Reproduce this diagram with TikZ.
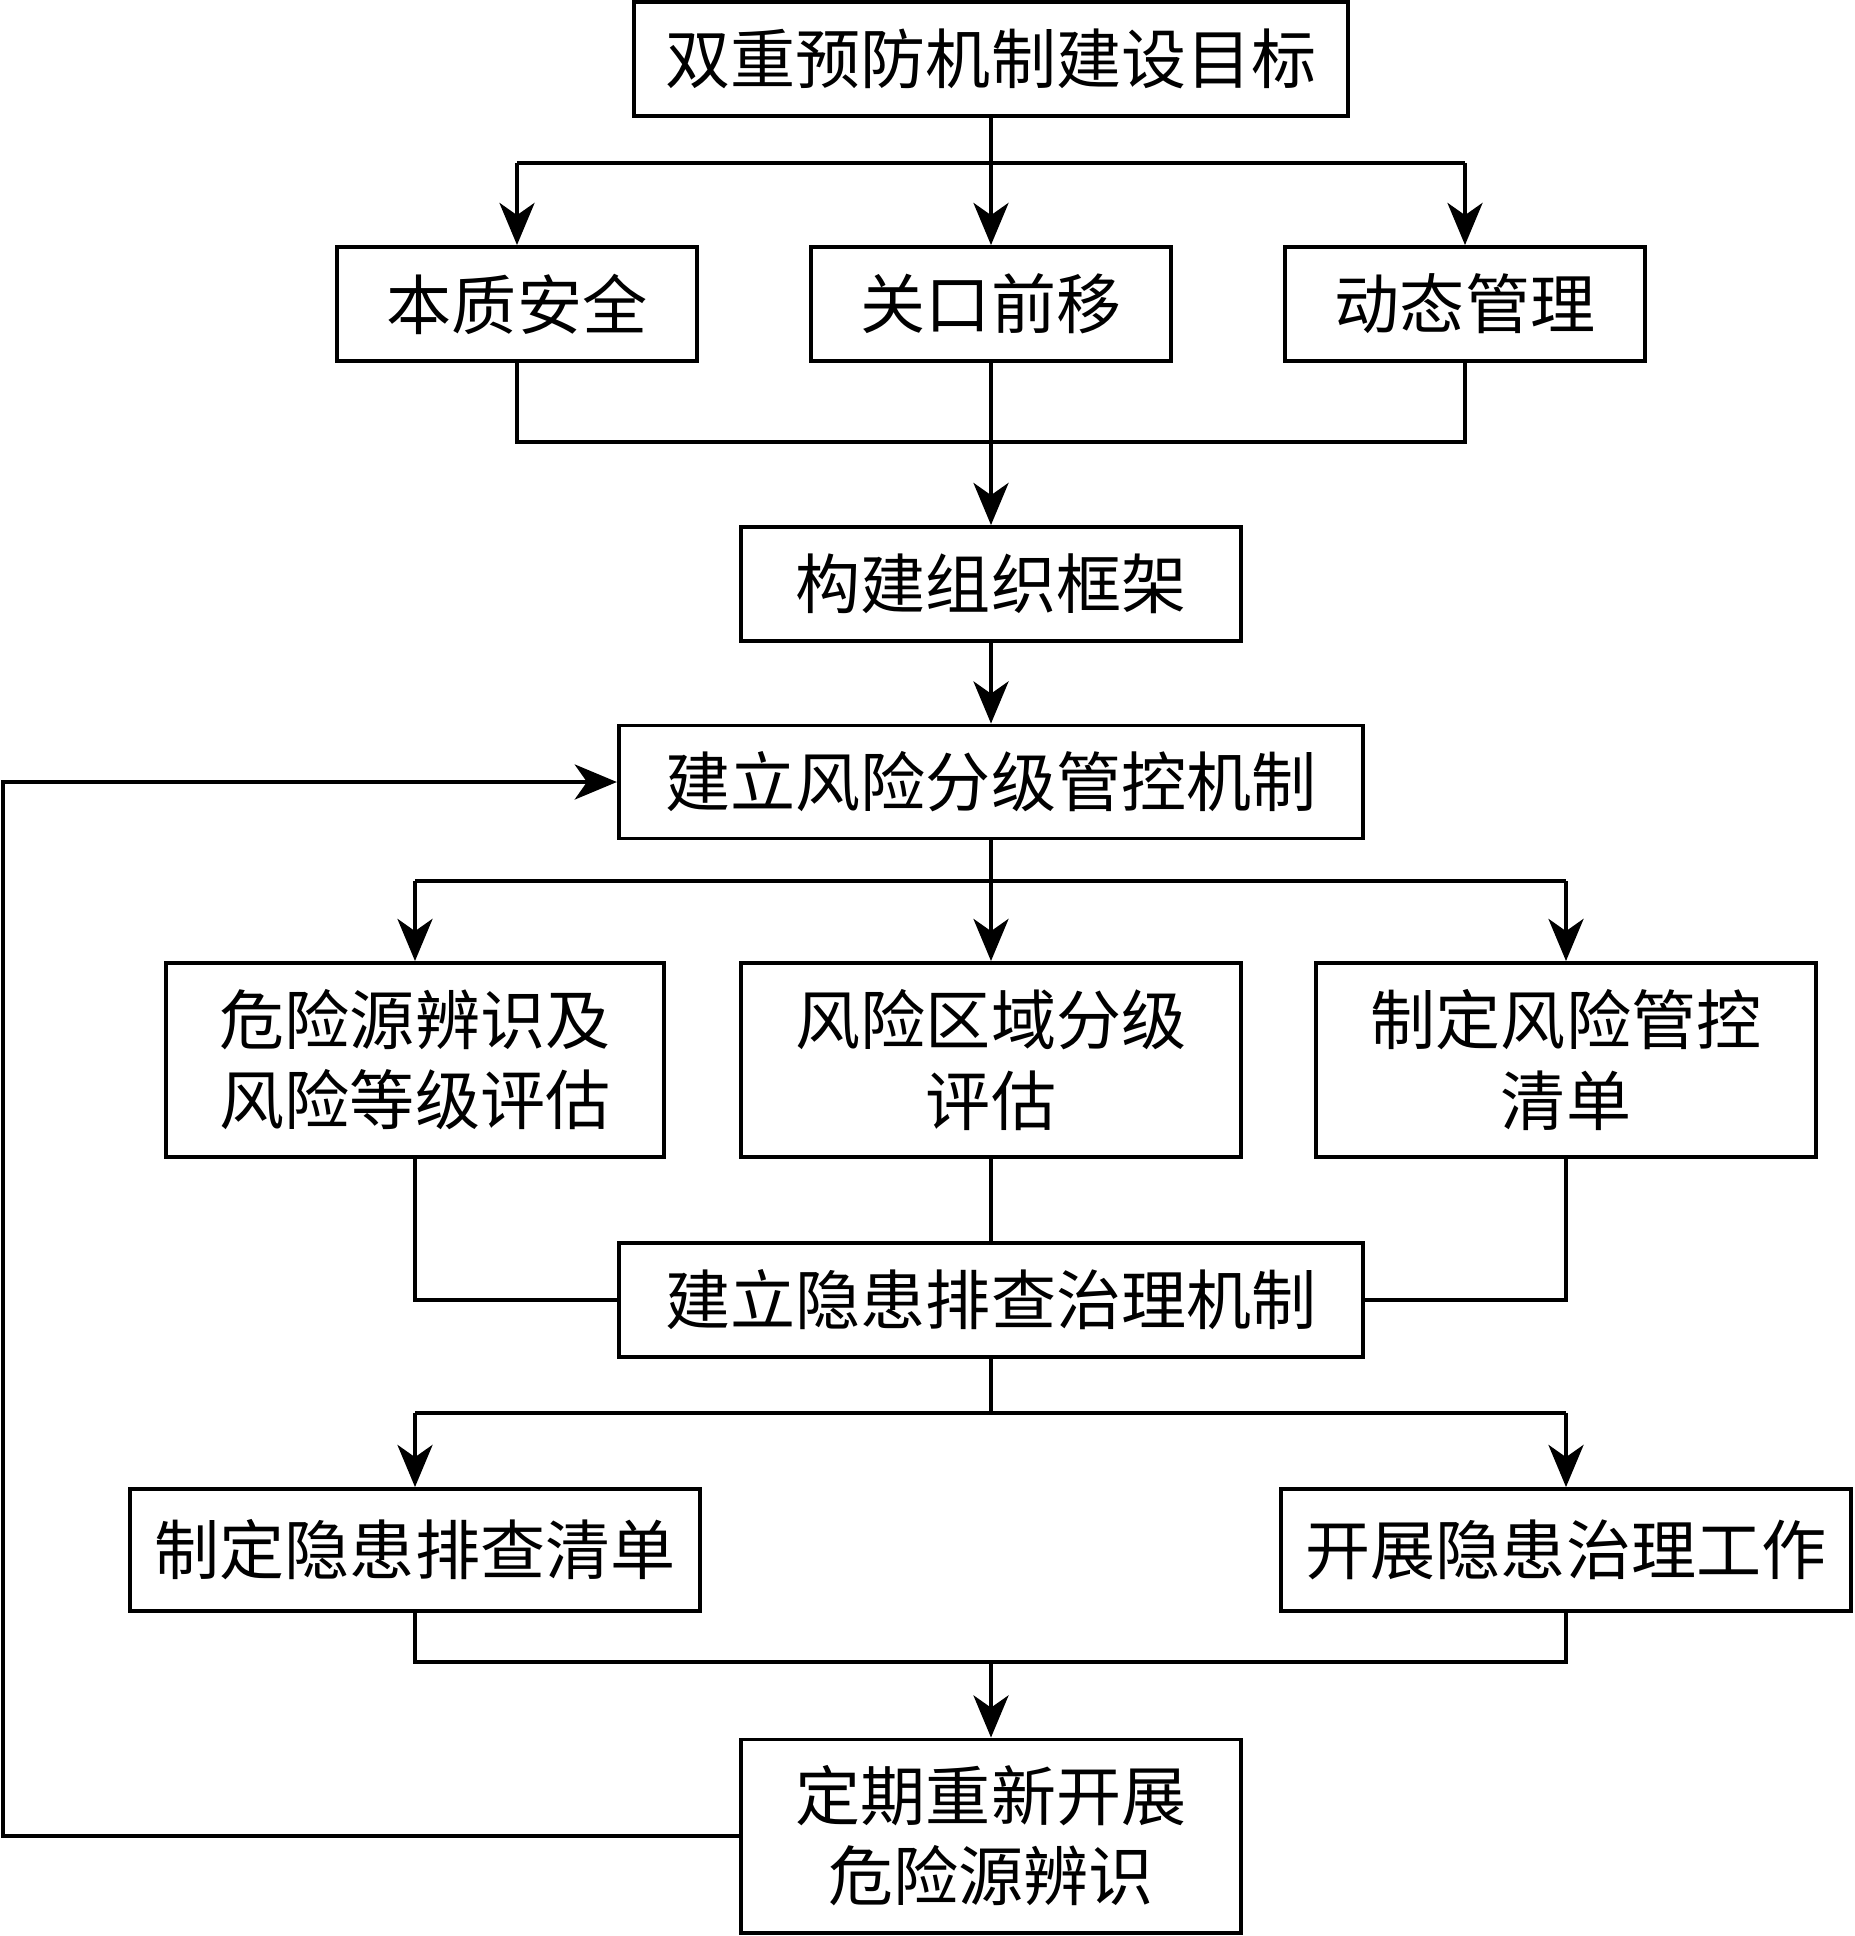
\documentclass[tikz,border=0pt]{standalone}
\usepackage{fontspec}
\newfontfamily\cjk{Noto Sans CJK SC}
\usetikzlibrary{arrows.meta}
\begin{document}
\begin{tikzpicture}[x=0.01cm,y=-0.01cm,
  box/.style={draw,line width=1.1pt,font={\cjk\fontsize{18.5}{22.8}\selectfont},align=center,inner sep=0pt},
  conn/.style={line width=0.9pt},
  arr/.style={conn,-{Stealth[length=12pt,width=10pt,inset=3.5pt]}}]
\useasboundingbox (0,0) rectangle (1854,1936);
% nodes
\node[box,minimum width=7.14cm,minimum height=1.14cm] (top) at (991,59) {双重预防机制建设目标};
\node[box,minimum width=3.6cm,minimum height=1.14cm] (b1) at (517,304) {本质安全};
\node[box,minimum width=3.6cm,minimum height=1.14cm] (b2) at (991,304) {关口前移};
\node[box,minimum width=3.6cm,minimum height=1.14cm] (b3) at (1465,304) {动态管理};
\node[box,minimum width=4.99cm,minimum height=1.14cm] (frame) at (991,584) {构建组织框架};
\node[box,minimum width=7.44cm,minimum height=1.13cm] (risk) at (991,782) {建立风险分级管控机制};
\node[box,minimum width=4.97cm,minimum height=1.94cm] (A) at (415,1060) {危险源辨识及\\风险等级评估};
\node[box,minimum width=4.99cm,minimum height=1.94cm] (B) at (991,1060) {风险区域分级\\评估};
\node[box,minimum width=4.99cm,minimum height=1.94cm] (C) at (1566,1060) {制定风险管控\\清单};
\node[box,minimum width=7.44cm,minimum height=1.14cm] (hid) at (991,1300) {建立隐患排查治理机制};
\node[box,minimum width=5.69cm,minimum height=1.22cm] (L) at (415,1550) {制定隐患排查清单};
\node[box,minimum width=5.69cm,minimum height=1.22cm] (R) at (1566,1550) {开展隐患治理工作};
\node[box,minimum width=4.99cm,minimum height=1.93cm] (last) at (991,1836) {定期重新开展\\危险源辨识};
% junction coordinates
\coordinate (j1) at (991,163);
\coordinate (m1) at (991,442);
\coordinate (j2) at (991,881);
\coordinate (j3) at (991,1413);
\coordinate (m2) at (991,1662);
\coordinate (fbx) at (3,1000);
% top branch
\draw[conn] (top.south) -- (j1);
\draw[conn] (b1.north |- j1) -- (b3.north |- j1);
\draw[arr] (b1.north |- j1) -- (b1.north);
\draw[arr] (j1) -- (b2.north);
\draw[arr] (b3.north |- j1) -- (b3.north);
% merge to frame
\draw[conn] (b1.south) -- (b1.south |- m1) -- (b3.south |- m1) -- (b3.south);
\draw[conn] (b2.south) -- (m1);
\draw[arr] (m1) -- (frame.north);
\draw[arr] (frame.south) -- (risk.north);
% risk branch
\draw[conn] (risk.south) -- (j2);
\draw[conn] (A.north |- j2) -- (C.north |- j2);
\draw[arr] (A.north |- j2) -- (A.north);
\draw[arr] (j2) -- (B.north);
\draw[arr] (C.north |- j2) -- (C.north);
% to hidden danger
\draw[conn] (A.south) |- (hid.west);
\draw[conn] (C.south) |- (hid.east);
\draw[conn] (B.south) -- (hid.north);
% hid branch
\draw[conn] (hid.south) -- (j3);
\draw[conn] (L.north |- j3) -- (R.north |- j3);
\draw[arr] (L.north |- j3) -- (L.north);
\draw[arr] (R.north |- j3) -- (R.north);
% merge to last
\draw[conn] (L.south) -- (L.south |- m2) -- (R.south |- m2) -- (R.south);
\draw[arr] (m2) -- (last.north);
% feedback
\draw[arr] (last.west) -- (last.west -| fbx) -- (risk.west -| fbx) -- (risk.west);
\end{tikzpicture}
\end{document}
